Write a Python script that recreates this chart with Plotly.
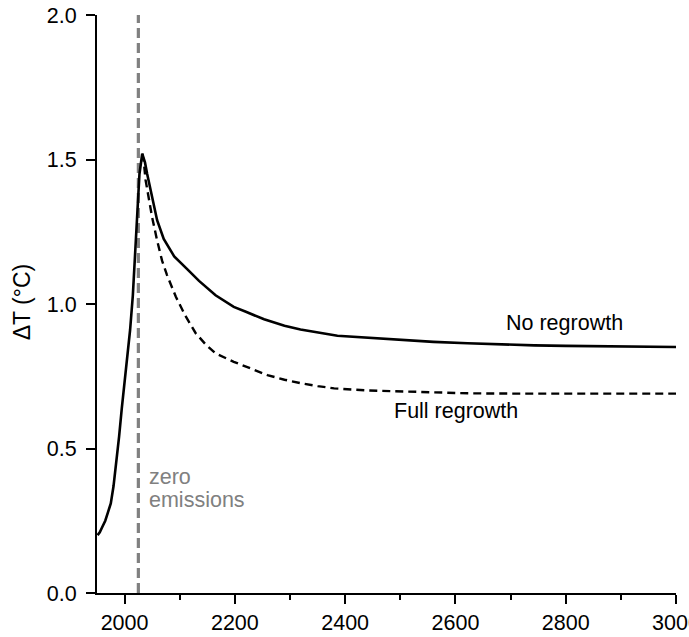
import plotly.graph_objects as go

# Historical warming up to the year emissions stop (shared by both scenarios)
years_rise = [1951, 1955, 1960, 1965, 1970, 1975, 1980, 1985, 1990, 1995,
              2000, 2005, 2010, 2015, 2020, 2024, 2027, 2032]
temp_rise = [0.20, 0.21, 0.23, 0.25, 0.28, 0.31, 0.37, 0.45, 0.54, 0.64,
             0.73, 0.82, 0.91, 1.03, 1.19, 1.36, 1.45, 1.52]

# Post-peak response without forest regrowth
years_noreg = [2032, 2037, 2041, 2050, 2059, 2071, 2090, 2114, 2135, 2165,
               2198, 2220, 2253, 2290, 2319, 2386, 2440, 2501, 2560, 2622,
               2680, 2743, 2800, 2864, 2930, 3000]
temp_noreg = [1.52, 1.49, 1.45, 1.37, 1.29, 1.225, 1.165, 1.12, 1.08, 1.03,
              0.99, 0.973, 0.947, 0.925, 0.912, 0.89, 0.883, 0.875, 0.869, 0.864,
              0.86, 0.857, 0.855, 0.854, 0.852, 0.851]

# Post-peak response with full regrowth
years_full = [2032, 2035, 2038, 2044, 2050, 2059, 2068, 2077, 2093, 2110,
              2129, 2147, 2165, 2198, 2220, 2259, 2290, 2319, 2350, 2380,
              2440, 2501, 2560, 2622, 2700, 2800, 2900, 3000]
temp_full = [1.52, 1.49, 1.43, 1.36, 1.30, 1.22, 1.15, 1.10, 1.025, 0.96,
             0.899, 0.86, 0.829, 0.80, 0.783, 0.754, 0.738, 0.726, 0.716, 0.708,
             0.701, 0.697, 0.694, 0.691, 0.69, 0.69, 0.69, 0.69]

zero_emissions_year = 2025
y_ticks = [0.0, 0.5, 1.0, 1.5, 2.0]
x_ticks = [2000, 2200, 2400, 2600, 2800, 3000]

FONT = "Liberation Sans, Arial, sans-serif"
GRAY = "#808080"
SIZE = 21.5

fig = go.Figure()

fig.add_trace(go.Scatter(
    x=[zero_emissions_year, zero_emissions_year], y=[0, 2.0],
    mode="lines", line=dict(color=GRAY, width=3.2, dash="10px,5px"),
    showlegend=False, hoverinfo="skip"))

fig.add_trace(go.Scatter(
    x=years_full, y=temp_full, mode="lines",
    line=dict(color="black", width=2.4, dash="8px,5px"),
    showlegend=False, name="Full regrowth"))

fig.add_trace(go.Scatter(
    x=years_rise + years_noreg[1:], y=temp_rise + temp_noreg[1:], mode="lines",
    line=dict(color="black", width=2.6),
    showlegend=False, name="No regrowth"))

fig.add_annotation(x=2908, y=0.934, text="No regrowth", showarrow=False,
                   xanchor="right", yanchor="middle",
                   font=dict(family=FONT, size=SIZE, color="black"))
fig.add_annotation(x=2485, y=0.63, text="Full regrowth", showarrow=False,
                   xanchor="left", yanchor="middle",
                   font=dict(family=FONT, size=SIZE, color="black"))
fig.add_annotation(x=zero_emissions_year, y=0.401, text="zero",
                   showarrow=False, xanchor="left", yanchor="middle",
                   xshift=9, font=dict(family=FONT, size=SIZE, color=GRAY))
fig.add_annotation(x=zero_emissions_year, y=0.322, text="emissions",
                   showarrow=False, xanchor="left", yanchor="middle",
                   xshift=9, font=dict(family=FONT, size=SIZE, color=GRAY))
fig.add_annotation(xref="paper", yref="paper", x=0, y=0.503,
                   text="ΔT (°C)", textangle=-90, showarrow=False,
                   xanchor="center", yanchor="middle", xshift=-75,
                   font=dict(family=FONT, size=23, color="black"))

fig.update_layout(
    width=689, height=637,
    margin=dict(l=97, r=13, t=15, b=44, autoexpand=False),
    paper_bgcolor="white", plot_bgcolor="white",
    font=dict(family=FONT, size=SIZE, color="black"),
    xaxis=dict(range=[1950, 3000], tickvals=x_ticks, automargin=False,
               ticks="outside", ticklen=9, tickwidth=2, tickcolor="black",
               minor=dict(dtick=100, tick0=2000, ticks="outside", ticklen=5,
                          tickwidth=2, tickcolor="black"),
               showline=True, linecolor="black", linewidth=2,
               showgrid=False, zeroline=False,
               ticklabeloverflow="allow",
               tickfont=dict(family=FONT, size=SIZE)),
    yaxis=dict(range=[0, 2.0], tickvals=y_ticks, tickformat=".1f",
               automargin=False,
               ticks="outside", ticklen=9, tickwidth=2, tickcolor="black",
               showline=True, linecolor="black", linewidth=2,
               showgrid=False, zeroline=False, ticklabelstandoff=5,
               tickfont=dict(family=FONT, size=SIZE)),
)

fig.write_html("out.html")
